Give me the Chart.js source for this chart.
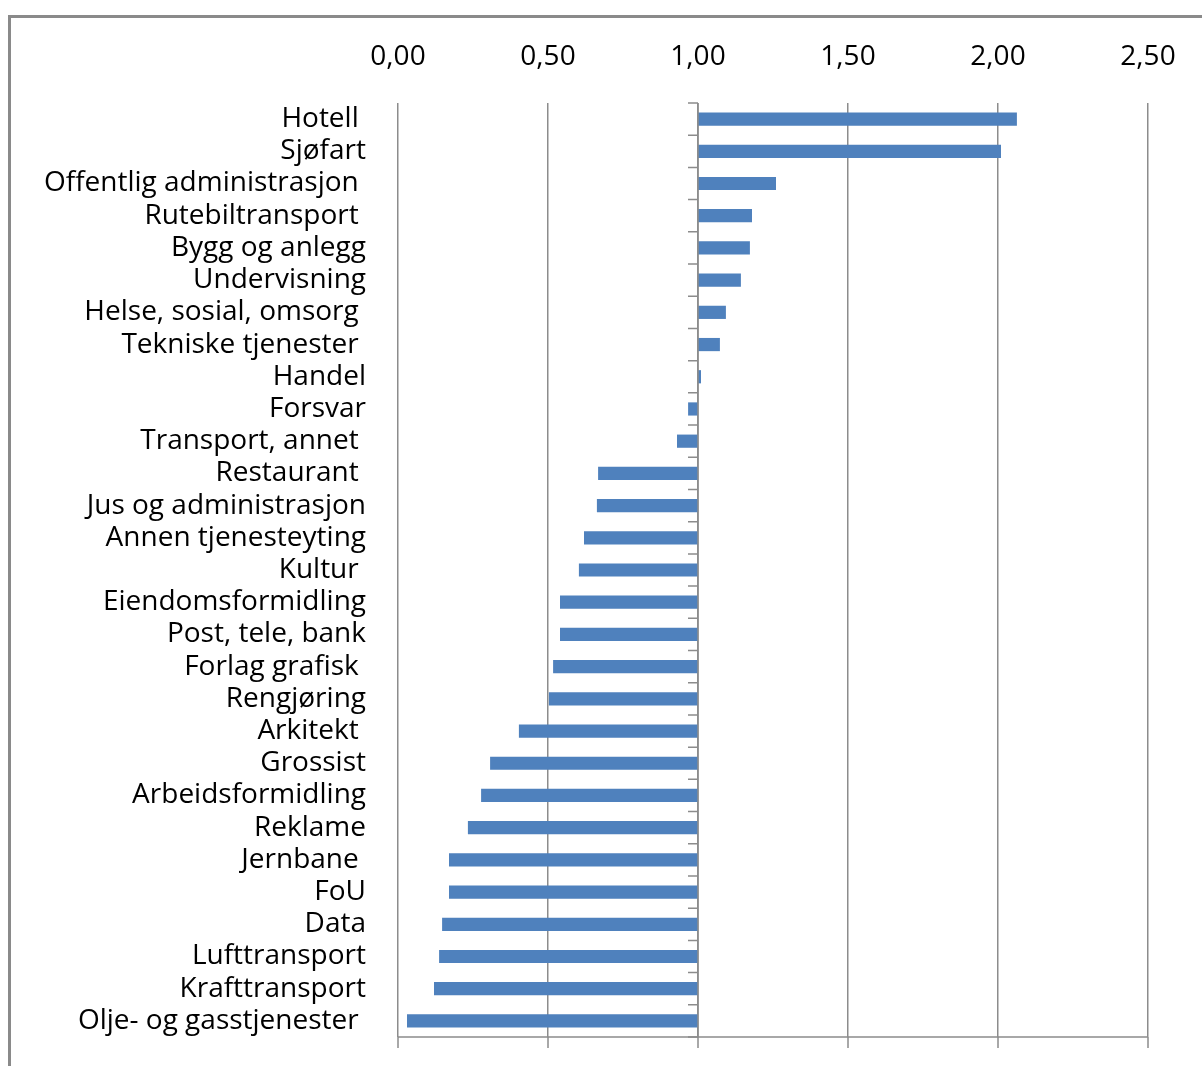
<!DOCTYPE html>
<html>
<head>
<meta charset="utf-8">
<script src="https://cdn.jsdelivr.net/npm/chart.js@4"></script>
<style>
  body { margin: 0; background: #fff; overflow: hidden; }
  canvas { display: block; }
</style>
</head>
<body>
<canvas id="indexChart" width="1202" height="1066"></canvas>
<script>
// Categories (top to bottom), some labels carry a trailing space like the source
const categories = [
  "Hotell ", "Sjøfart", "Offentlig administrasjon ", "Rutebiltransport ",
  "Bygg og anlegg", "Undervisning", "Helse, sosial, omsorg ", "Tekniske tjenester ",
  "Handel", "Forsvar", "Transport, annet ", "Restaurant ", "Jus og administrasjon",
  "Annen tjenesteyting", "Kultur ", "Eiendomsformidling", "Post, tele, bank",
  "Forlag grafisk ", "Rengjøring", "Arkitekt ", "Grossist", "Arbeidsformidling",
  "Reklame", "Jernbane ", "FoU", "Data", "Lufttransport", "Krafttransport",
  "Olje- og gasstjenester "
];

// Index values (bars start at 1,00)
const values = [
  2.063, 2.01, 1.26, 1.18, 1.173, 1.143, 1.093, 1.073,
  1.01, 0.967, 0.93, 0.667, 0.663, 0.62, 0.603, 0.54, 0.54,
  0.517, 0.503, 0.403, 0.307, 0.277, 0.233, 0.17, 0.17,
  0.147, 0.137, 0.12, 0.03
];

const baseValue = 1.0;
const tickValues = [0, 0.5, 1.0, 1.5, 2.0, 2.5];

const gridColor = "#8c8c8c";
const fontFamily = "'Open Sans', Lato, sans-serif";

// draws the frame, the category axis crossing at 1,00 and the bottom axis line
const axisPlugin = {
  id: "axisPlugin",
  beforeDraw(chart) {
    const ctx = chart.ctx;
    ctx.save();
    ctx.strokeStyle = "#8a8a8a";
    ctx.lineWidth = 3;
    ctx.beginPath();
    ctx.moveTo(9.5, 1066);
    ctx.lineTo(9.5, 16.5);
    ctx.lineTo(1202, 16.5);
    ctx.stroke();
    ctx.restore();
  },
  afterDatasetsDraw(chart) {
    const ctx = chart.ctx;
    const area = chart.chartArea;
    const x = chart.scales.x;
    const y = chart.scales.y;
    ctx.save();
    ctx.strokeStyle = gridColor;
    ctx.lineWidth = 1.5;

    // bottom axis line with downward ticks
    ctx.beginPath();
    ctx.moveTo(area.left, area.bottom);
    ctx.lineTo(area.right, area.bottom);
    tickValues.forEach((v) => {
      const px = x.getPixelForValue(v);
      ctx.moveTo(px, area.bottom);
      ctx.lineTo(px, area.bottom + 11);
    });
    ctx.stroke();

    // category axis at 1,00 with ticks at category boundaries
    const ax = x.getPixelForValue(baseValue);
    const step = (y.bottom - y.top) / categories.length;
    ctx.beginPath();
    ctx.moveTo(ax, area.top);
    ctx.lineTo(ax, area.bottom);
    for (let i = 0; i <= categories.length; i++) {
      const py = y.top + i * step;
      ctx.moveTo(ax - 10, py);
      ctx.lineTo(ax, py);
    }
    ctx.stroke();
    ctx.restore();
  },
};

new Chart(document.getElementById("indexChart"), {
  type: "bar",
  data: {
    labels: categories,
    datasets: [
      {
        data: values.map((v) => [baseValue, v]),
        backgroundColor: "#4f81bd",
        borderWidth: 0,
        categoryPercentage: 1,
        barPercentage: 0.41,
      },
    ],
  },
  options: {
    indexAxis: "y",
    responsive: false,
    animation: false,
    layout: { padding: { left: 0, right: 54, top: 0, bottom: 29 } },
    plugins: {
      legend: { display: false },
      tooltip: { enabled: false },
    },
    scales: {
      x: {
        position: "top",
        min: 0,
        max: 2.5,
        afterBuildTicks(scale) {
          scale.ticks = tickValues.map((v) => ({ value: v }));
        },
        afterFit(scale) {
          scale.height = 103;
          scale.paddingLeft = 0;
          scale.paddingRight = 0;
        },
        ticks: {
          padding: 29,
          color: "#000",
          font: { family: fontFamily, size: 28 },
          callback: (v) => Number(v).toFixed(2).replace(".", ","),
        },
        grid: {
          color: gridColor,
          lineWidth: 1.5,
          drawTicks: false,
        },
        border: { display: false },
      },
      y: {
        afterFit(scale) {
          scale.width = 398;
          scale.paddingTop = 0;
          scale.paddingBottom = 0;
        },
        ticks: {
          padding: 32,
          color: "#000",
          autoSkip: false,
          font: { family: fontFamily, size: 28 },
        },
        grid: { display: false, drawTicks: false },
        border: { display: false },
      },
    },
  },
  plugins: [axisPlugin],
});
</script>
</body>
</html>
